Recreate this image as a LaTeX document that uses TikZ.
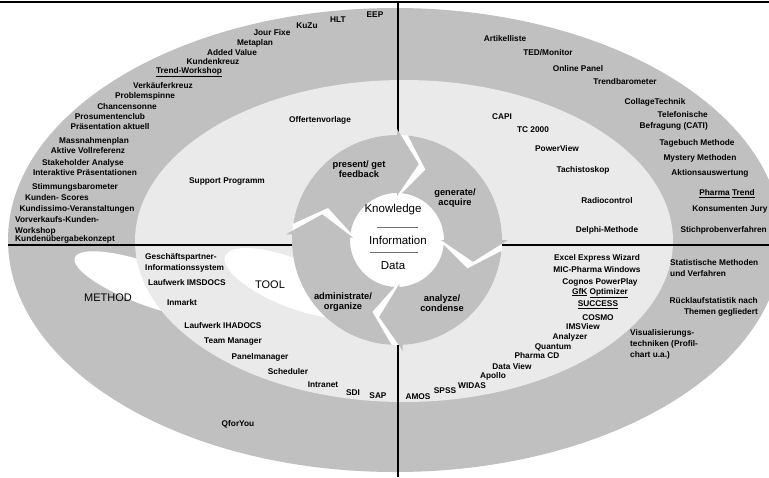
\documentclass[tikz,border=0pt]{standalone}
\usepackage{fontspec}
\setmainfont{Liberation Sans}
\definecolor{bandgray}{RGB}{192,192,192}
\definecolor{fieldgray}{RGB}{234,234,234}
% one curved arrow of the knowledge cycle: tail angle, head-base angle
\newcommand\cyclearrow[2]{%
  \fill[bandgray] (#1:105) arc[start angle=#1, end angle=#2, radius=105]
    -- (#2:111) -- ({#2-16}:79) -- (#2:44)
    -- (#2:47) arc[start angle=#2, end angle=#1, radius=47]
    -- ({#1-16}:76) -- cycle;}
\begin{document}
\begin{tikzpicture}[x=1pt,y=-1pt,
  lbl/.style={font=\fontsize{8.3}{11}\selectfont\bfseries, inner sep=0pt},
  cyc/.style={font=\fontsize{9.3}{10.5}\selectfont\bfseries, align=center, inner sep=0pt},
  core/.style={font=\fontsize{11.5}{12}\selectfont, inner sep=0pt},
  big/.style={font=\fontsize{11}{12}\selectfont, inner sep=0pt},
  axis/.style={line width=2pt},
  sep/.style={black!55, line width=0.8pt}]
\useasboundingbox[fill=white] (0,0) rectangle (769,477);

% outer band, method lens, inner field, tool lens
\begin{scope}
  \clip (0,0) rectangle (769,477);
  \fill[bandgray] (395,240) ellipse [x radius=387, y radius=232];
  \fill[white, rotate around={-20:(150,285)}] (150,285) ellipse [x radius=80, y radius=21];
  \fill[fieldgray] (404,241) ellipse [x radius=269, y radius=161];
  \fill[white, rotate around={-22:(292,283)}] (292,283) ellipse [x radius=72, y radius=24];
\end{scope}

% quadrant axes
\coordinate (axT) at (398,3);
\coordinate (axB) at (398,477);
\coordinate (axL) at (8,245);
\coordinate (axR) at (769,245);
\draw[axis] (axT) -- (axB);
\draw[axis] (axL) -- (axR);

% knowledge cycle
\begin{scope}[shift={(397,240)}, yscale=-1]
  \fill[white] (0,0) circle [radius=105];
  \cyclearrow{171}{90}
  \cyclearrow{84}{0}
  \cyclearrow{-6}{-87}
  \cyclearrow{-93}{-183}
\end{scope}

\node[core] (know) at (393,210) {Knowledge};
\node[core] (info) at (398,240) {Information};
\node[core] (data) at (393,266) {Data};
\coordinate (s1a) at (377,227); \coordinate (s1b) at (418,227);
\coordinate (s2a) at (370,252); \coordinate (s2b) at (418,252);
\draw[sep] (s1a) -- (s1b);
\draw[sep] (s2a) -- (s2b);

\node[cyc] (present) at (359,169) {present/ get\\feedback};
\node[cyc] (generate) at (455,198) {generate/\\acquire};
\node[cyc] (analyze) at (442,303) {analyze/\\condense};
\node[cyc] (administrate) at (343,302) {administrate/\\organize};

\node[big] (method) at (108,298) {METHOD};
\node[big] (tool) at (270,285) {TOOL};

% top rule
\coordinate (ruleL) at (0,2);
\coordinate (ruleR) at (769,2);
\draw[line width=2.5pt] (ruleL) -- (ruleR);

% methods, upper left
\node[lbl] (eep) at (375,15) {EEP};
\node[lbl] (hlt) at (338,20) {HLT};
\node[lbl] (kuzu) at (307,26) {KuZu};
\node[lbl] (jour) at (272,33) {Jour Fixe};
\node[lbl] (meta) at (255,43) {Metaplan};
\node[lbl] (added) at (232,53) {Added Value};
\node[lbl] (kkreuz) at (213,62) {Kundenkreuz};
\node[lbl] (trendws) at (189,72) {\underline{Trend-Workshop}};
\node[lbl] (vkreuz) at (163,86) {Verkäuferkreuz};
\node[lbl] (spinne) at (145,96) {Problemspinne};
\node[lbl] (sonne) at (127,107) {Chancensonne};
\node[lbl] (club) at (110,117) {Prosumentenclub};
\node[lbl] (praes) at (110,127) {Präsentation aktuell};
\node[lbl] (mass) at (94,141) {Massnahmenplan};
\node[lbl] (aktiv) at (88,151) {Aktive Vollreferenz};
\node[lbl] (stake) at (83,163) {Stakeholder Analyse};
\node[lbl] (interakt) at (85,173) {Interaktive Präsentationen};
\node[lbl] (stimm) at (75,187) {Stimmungsbarometer};
\node[lbl] (scores) at (57,198) {Kunden- Scores};
\node[lbl] (kundiss) at (77,209) {Kundissimo-Veranstaltungen};
\node[lbl, anchor=west, align=left] (vorverk) at (15,225.5) {Vorverkaufs-Kunden-\\Workshop};
\node[lbl, anchor=west] (uebergabe) at (15,239) {Kundenübergabekonzept};
\node[lbl] (support) at (227,181) {Support Programm};
\node[lbl] (offerte) at (320,120) {Offertenvorlage};

% methods and tools, upper right
\node[lbl] (artikel) at (505,39) {Artikelliste};
\node[lbl] (ted) at (548,53) {TED/Monitor};
\node[lbl] (online) at (578,69) {Online Panel};
\node[lbl] (trendbar) at (625,82) {Trendbarometer};
\node[lbl] (collage) at (655,102) {CollageTechnik};
\node[lbl, anchor=east, align=right] (cati) at (708,121) {Telefonische\\Befragung (CATI)};
\node[lbl] (capi) at (502,117) {CAPI};
\node[lbl] (tc) at (533,130) {TC 2000};
\node[lbl] (powerview) at (557,149) {PowerView};
\node[lbl] (tachi) at (583,170) {Tachistoskop};
\node[lbl] (radio) at (607,201) {Radiocontrol};
\node[lbl] (delphi) at (607,230) {Delphi-Methode};
\node[lbl] (tagebuch) at (697,143) {Tagebuch Methode};
\node[lbl] (mystery) at (700,158) {Mystery Methoden};
\node[lbl] (aktion) at (710,173) {Aktionsauswertung};
\node[lbl] (pharmatrend) at (727,194) {\underline{Pharma} \underline{Trend}};
\node[lbl] (jury) at (730,210) {Konsumenten Jury};
\node[lbl, anchor=east] (stich) at (767,230) {Stichprobenverfahren};

% tools, lower right
\node[lbl] (excel) at (597,258) {Excel Express Wizard};
\node[lbl] (mic) at (597,270) {MIC-Pharma Windows};
\node[lbl] (cognos) at (600,282) {Cognos PowerPlay};
\node[lbl] (gfk) at (600,293) {\underline{GfK} \underline{Optimizer}};
\node[lbl] (success) at (598,305) {\underline{SUCCESS}};
\node[lbl] (cosmo) at (598,318) {COSMO};
\node[lbl] (ims) at (583,327) {IMSView};
\node[lbl] (analyzer) at (570,337) {Analyzer};
\node[lbl] (quantum) at (553,347) {Quantum};
\node[lbl] (pharmacd) at (537,356) {Pharma CD};
\node[lbl] (dataview) at (512,367) {Data View};
\node[lbl] (apollo) at (493,376) {Apollo};
\node[lbl] (widas) at (472,386) {WIDAS};
\node[lbl] (spss) at (445,391) {SPSS};
\node[lbl] (amos) at (418,397) {AMOS};
\node[lbl, anchor=west, align=left] (statist) at (670,268) {Statistische Methoden\\und Verfahren};
\node[lbl, anchor=east, align=right] (ruecklauf) at (758,307) {Rücklaufstatistik nach\\Themen gegliedert};
\node[lbl, anchor=west, align=left] (visual) at (630,344) {Visualisierungs-\\techniken (Profil-\\chart u.a.)};

% tools, lower left
\node[lbl, anchor=west, align=left] (gpis) at (145,262.5) {Geschäftspartner-\\Informationssystem};
\node[lbl, anchor=west] (imsdocs) at (148,283) {Laufwerk IMSDOCS};
\node[lbl] (inmarkt) at (182,303) {Inmarkt};
\node[lbl] (ihadocs) at (223,326) {Laufwerk IHADOCS};
\node[lbl] (team) at (233,342) {Team Manager};
\node[lbl] (panel) at (260,357) {Panelmanager};
\node[lbl] (sched) at (288,372) {Scheduler};
\node[lbl] (intranet) at (323,385) {Intranet};
\node[lbl] (sdi) at (353,393) {SDI};
\node[lbl] (sap) at (378,396) {SAP};
\node[lbl] (qfor) at (238,424) {QforYou};
\end{tikzpicture}
\end{document}
